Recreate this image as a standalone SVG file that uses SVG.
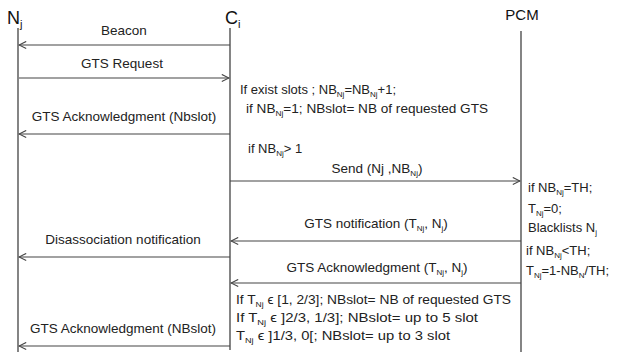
<svg xmlns="http://www.w3.org/2000/svg" width="633" height="356" viewBox="0 0 633 356">
<style>
text{font-family:"Liberation Sans","Open Sans",sans-serif;font-size:13px;fill:#222}
.lb{font-size:13.5px}
.hd{font-size:18px;fill:#111}
.s{font-size:8px}
.life{stroke:#333;stroke-width:1.2;fill:none}
.msg{stroke:#444;stroke-width:1.2;fill:none}
</style>
<defs>
<marker id="ah" viewBox="0 0 10 10" refX="9" refY="5" markerWidth="9" markerHeight="9" markerUnits="userSpaceOnUse" orient="auto">
<path d="M1,1 L9,5 L1,9" fill="none" stroke="#444" stroke-width="1.2"/>
</marker>
</defs>
<rect width="633" height="356" fill="#fff"/>
<g id="node-Nj">
<text class="hd" x="7" y="24">N<tspan style="font-size:11px" dy="4">j</tspan></text>
<line class="life" x1="18" y1="28" x2="18" y2="352"/>
</g>
<g id="node-Ci">
<text class="hd" x="225" y="24">C<tspan style="font-size:11px" dy="4">i</tspan></text>
<line class="life" x1="230" y1="28" x2="230" y2="350"/>
</g>
<g id="node-PCM">
<text class="hd" x="522" y="20" text-anchor="middle" style="font-size:15px">PCM</text>
<line class="life" x1="521" y1="31" x2="521" y2="352"/>
</g>
<g id="connectors">
<line class="msg" x1="230" y1="45" x2="19" y2="45" marker-end="url(#ah)"/>
<line class="msg" x1="19" y1="78" x2="229" y2="78" marker-end="url(#ah)"/>
<line class="msg" x1="230" y1="134" x2="19" y2="134" marker-end="url(#ah)"/>
<line class="msg" x1="230" y1="181" x2="520" y2="181" marker-end="url(#ah)"/>
<line class="msg" x1="521" y1="241" x2="231" y2="241" marker-end="url(#ah)"/>
<line class="msg" x1="230" y1="257" x2="19" y2="257" marker-end="url(#ah)"/>
<line class="msg" x1="521" y1="283" x2="231" y2="283" marker-end="url(#ah)"/>
<line class="msg" x1="230" y1="346" x2="19" y2="346" marker-end="url(#ah)"/>
</g>
<g id="labels">
<text class="lb" x="124" y="35" text-anchor="middle">Beacon</text>
<text class="lb" x="122" y="68" text-anchor="middle">GTS Request</text>
<text class="lb" x="124" y="121" text-anchor="middle">GTS Acknowledgment (Nbslot)</text>
<text class="lb" x="377" y="173" text-anchor="middle">Send (Nj ,NB<tspan class="s" dy="3">Nj</tspan><tspan dy="-3">)</tspan></text>
<text class="lb" x="376" y="228" text-anchor="middle">GTS notification (T<tspan class="s" dy="3">Nj</tspan><tspan dy="-3">,  N</tspan><tspan class="s" dy="3">j</tspan><tspan dy="-3">)</tspan></text>
<text class="lb" x="123" y="244" text-anchor="middle">Disassociation notification</text>
<text class="lb" x="377" y="272" text-anchor="middle">GTS Acknowledgment (T<tspan class="s" dy="3">Nj</tspan><tspan dy="-3">,  N</tspan><tspan class="s" dy="3">j</tspan><tspan dy="-3">)</tspan></text>
<text class="lb" x="123" y="333" text-anchor="middle">GTS Acknowledgment (NBslot)</text>
</g>
<g id="notes">
<text x="240" y="94">If exist slots ; NB<tspan class="s" dy="3">Nj</tspan><tspan dy="-3">=NB</tspan><tspan class="s" dy="3">Nj</tspan><tspan dy="-3">+1;</tspan></text>
<text x="246" y="113" textLength="242" lengthAdjust="spacingAndGlyphs">if NB<tspan class="s" dy="3">Nj</tspan><tspan dy="-3">=1;  NBslot= NB of requested GTS</tspan></text>
<text x="248" y="153">if NB<tspan class="s" dy="3">Nj</tspan><tspan dy="-3">&gt; 1</tspan></text>
<text x="528" y="192">if NB<tspan class="s" dy="3">Nj</tspan><tspan dy="-3">=TH;</tspan></text>
<text x="528" y="213">T<tspan class="s" dy="3">Nj</tspan><tspan dy="-3">=0;</tspan></text>
<text x="528" y="232">Blacklists N<tspan class="s" dy="3">j</tspan></text>
<text x="526" y="255">if NB<tspan class="s" dy="3">Nj</tspan><tspan dy="-3">&lt;TH;</tspan></text>
<text x="526" y="275">T<tspan class="s" dy="3">Nj</tspan><tspan dy="-3">=1-NB</tspan><tspan class="s" dy="3">N</tspan><tspan dy="-3">/TH;</tspan></text>
<text x="236" y="304" textLength="275" lengthAdjust="spacingAndGlyphs">If T<tspan class="s" dy="3">Nj</tspan><tspan dy="-3"> ϵ [1, 2/3]; NBslot= NB of requested GTS</tspan></text>
<text x="236" y="322" textLength="242" lengthAdjust="spacingAndGlyphs">If T<tspan class="s" dy="3">Nj</tspan><tspan dy="-3"> ϵ ]2/3, 1/3]; NBslot= up to 5 slot</tspan></text>
<text x="236" y="340" textLength="214" lengthAdjust="spacingAndGlyphs">T<tspan class="s" dy="3">Nj</tspan><tspan dy="-3"> ϵ ]1/3, 0[; NBslot= up to 3 slot</tspan></text>
</g>
</svg>
